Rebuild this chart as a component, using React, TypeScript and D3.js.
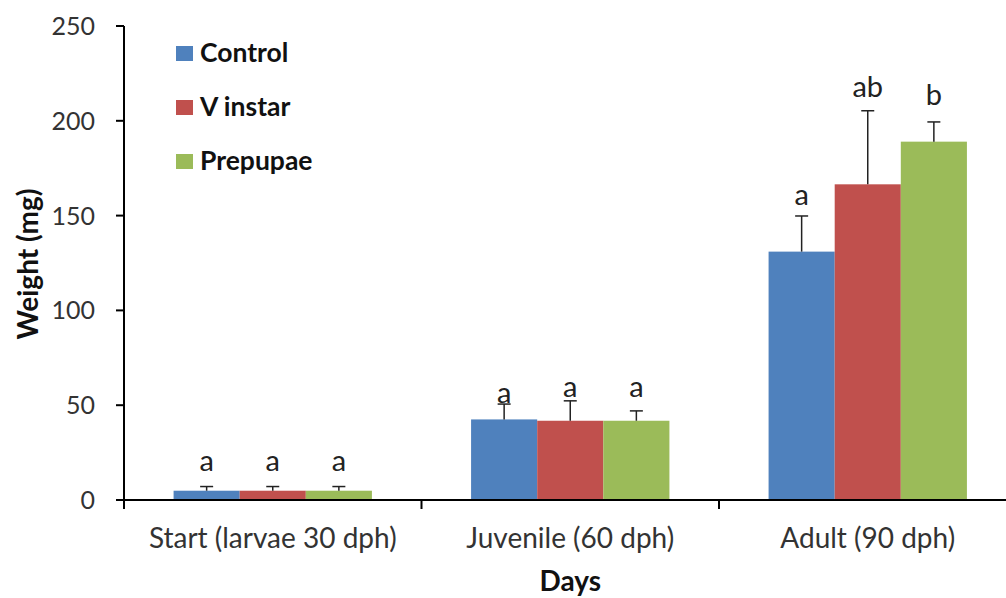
import React, {useEffect, useRef} from 'react'
import * as d3 from 'd3'

// chart values
const categories = ['Start (larvae 30 dph)', 'Juvenile (60 dph)', 'Adult (90 dph)']
const seriesNames = ['Control', 'V instar', 'Prepupae']
const seriesColors = ['#4F81BD', '#C0504D', '#9BBB59']
const controlMean = [4.9, 42.5, 131]
const vInstarMean = [4.9, 41.8, 166.5]
const prepupaeMean = [4.9, 41.8, 189]
const controlErr = [2.2, 8.1, 18.8]
const vInstarErr = [2.2, 10.5, 38.8]
const prepupaeErr = [2.2, 5.2, 10.4]
const controlLetters = ['a', 'a', 'a']
const vInstarLetters = ['a', 'a', 'ab']
const prepupaeLetters = ['a', 'a', 'b']
// value (mg) at which each significance letter sits
const controlLetterAt = [15.3, 51.3, 155.6]
const vInstarLetterAt = [15.3, 54.5, 212.6]
const prepupaeLetterAt = [15.3, 54.2, 208.3]
const yTicks = [0, 50, 100, 150, 200, 250]

const means = [controlMean, vInstarMean, prepupaeMean]
const errs = [controlErr, vInstarErr, prepupaeErr]
const letters = [controlLetters, vInstarLetters, prepupaeLetters]
const letterAt = [controlLetterAt, vInstarLetterAt, prepupaeLetterAt]

const W = 1006
const H = 598
const FONT = 'Lato, "Open Sans", sans-serif'

export default function App() {
    const svgRef = useRef<SVGSVGElement>(null)

    useEffect(() => {
        const svg = d3.select(svgRef.current)
        svg.selectAll('*').remove()

        const left = 124
        const right = 1016.5
        const top = 26
        const bottom = 500

        const x0 = d3.scaleBand<string>().domain(categories).range([left, right]).padding(0)
        const x1 = d3
            .scaleBand<string>()
            .domain(seriesNames)
            .range([0, x0.bandwidth()])
            .paddingInner(0)
            .paddingOuter(0.75)
        const y = d3.scaleLinear().domain([0, 250]).range([bottom, top])

        const g = svg.append('g')

        // bars
        seriesNames.forEach((s, si) => {
            g.append('g')
                .selectAll('rect')
                .data(categories)
                .join('rect')
                .attr('x', (c) => x0(c)! + x1(s)!)
                .attr('width', x1.bandwidth())
                .attr('y', (c, i) => y(means[si][i]))
                .attr('height', (c, i) => y(0) - y(means[si][i]))
                .attr('fill', seriesColors[si])
        })

        // error bars (upper only) and significance letters
        seriesNames.forEach((s, si) => {
            categories.forEach((c, i) => {
                const cx = x0(c)! + x1(s)! + x1.bandwidth() / 2
                const y1 = y(means[si][i])
                const y2 = y(means[si][i] + errs[si][i])
                g.append('line')
                    .attr('x1', cx).attr('x2', cx)
                    .attr('y1', y1).attr('y2', y2)
                    .attr('stroke', '#222').attr('stroke-width', 1.5)
                g.append('line')
                    .attr('x1', cx - 6.5).attr('x2', cx + 6.5)
                    .attr('y1', y2).attr('y2', y2)
                    .attr('stroke', '#222').attr('stroke-width', 1.5)
                g.append('text')
                    .attr('x', cx)
                    .attr('y', y(letterAt[si][i]))
                    .attr('text-anchor', 'middle')
                    .attr('font-family', FONT)
                    .attr('font-size', 29)
                    .attr('fill', '#222')
                    .text(letters[si][i])
            })
        })

        // y axis
        g.append('line')
            .attr('x1', left).attr('x2', left)
            .attr('y1', top).attr('y2', bottom + 9)
            .attr('stroke', '#000').attr('stroke-width', 2)
        yTicks.forEach((t) => {
            g.append('line')
                .attr('x1', left - 8).attr('x2', left)
                .attr('y1', y(t)).attr('y2', y(t))
                .attr('stroke', '#000').attr('stroke-width', 2)
            g.append('text')
                .attr('x', 95)
                .attr('y', y(t))
                .attr('dy', '0.36em')
                .attr('text-anchor', 'end')
                .attr('font-family', FONT)
                .attr('font-size', 25)
                .attr('fill', '#333')
                .text(t)
        })

        // x axis
        g.append('line')
            .attr('x1', left - 8).attr('x2', right)
            .attr('y1', bottom).attr('y2', bottom)
            .attr('stroke', '#000').attr('stroke-width', 2)
        categories.forEach((c) => {
            const bx = x0(c)!
            g.append('line')
                .attr('x1', bx).attr('x2', bx)
                .attr('y1', bottom).attr('y2', bottom + 9)
                .attr('stroke', '#000').attr('stroke-width', 2)
            g.append('text')
                .attr('x', bx + x0.bandwidth() / 2)
                .attr('y', 548)
                .attr('text-anchor', 'middle')
                .attr('font-family', FONT)
                .attr('font-size', 28)
                .attr('fill', '#333')
                .text(c)
        })

        // axis titles
        g.append('text')
            .attr('x', (left + right) / 2)
            .attr('y', 591)
            .attr('text-anchor', 'middle')
            .attr('font-family', FONT)
            .attr('font-weight', 'bold')
            .attr('font-size', 28)
            .attr('fill', '#111')
            .text('Days')
        g.append('text')
            .attr('transform', `translate(38,264) rotate(-90)`)
            .attr('text-anchor', 'middle')
            .attr('font-family', FONT)
            .attr('font-weight', 'bold')
            .attr('font-size', 28)
            .attr('fill', '#111')
            .text('Weight (mg)')

        // legend
        seriesNames.forEach((s, si) => {
            const ly = 46 + si * 54
            g.append('rect')
                .attr('x', 176).attr('y', ly)
                .attr('width', 17).attr('height', 15)
                .attr('fill', seriesColors[si])
            g.append('text')
                .attr('x', 200)
                .attr('y', ly + 16)
                .attr('font-family', FONT)
                .attr('font-weight', 'bold')
                .attr('font-size', 26.5)
                .attr('fill', '#111')
                .text(s)
        })
    }, [])

    return (
        <div style={{position: 'fixed', left: 0, top: 0, width: W, height: H, background: '#fff'}}>
            <svg ref={svgRef} width={W} height={H} style={{display: 'block'}} />
        </div>
    )
}
